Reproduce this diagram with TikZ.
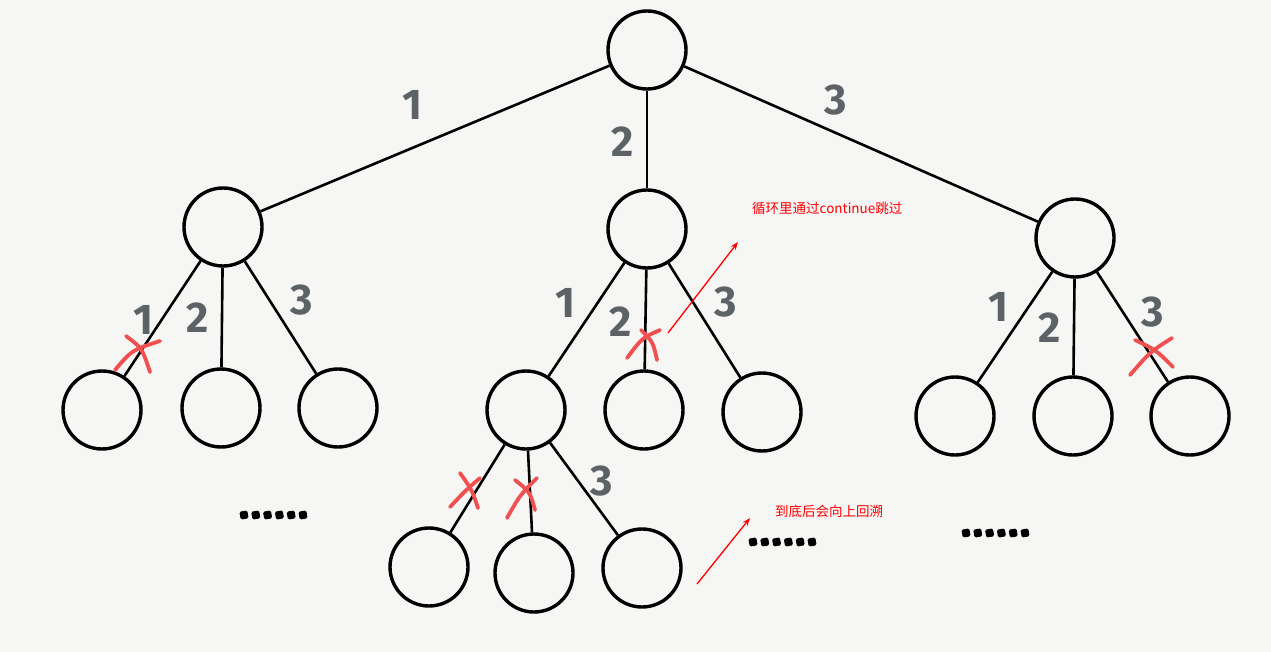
\documentclass[tikz,border=0pt]{standalone}
\usepackage{fontspec}
\setmainfont{Fira Sans}
\newfontfamily\cjk{Noto Sans CJK SC}
\usepackage{tikz}
\usetikzlibrary{arrows.meta}
\definecolor{paper}{RGB}{246,246,245}
\definecolor{numgray}{RGB}{92,98,101}
\definecolor{crossred}{RGB}{240,80,80}
\definecolor{notered}{RGB}{255,0,0}

\begin{document}
\begin{tikzpicture}[x=1pt,y=-1pt,
    vtx/.style={circle,draw,line width=3.4pt,minimum size=78pt,inner sep=0pt},
    edge/.style={line width=2.6pt},
    num/.style={font=\fontsize{43}{43}\selectfont\bfseries,text=numgray,inner sep=0pt},
    cross/.style={crossred,line width=3.8pt,line cap=round},
    note/.style={font=\cjk\fontsize{13.5}{14}\selectfont,text=notered,inner sep=0pt},
    noteline/.style={notered,line width=1.3pt,-{Stealth[length=8pt,width=6pt]}}]
  \fill[paper] (0,0) rectangle (1271,652);
  \useasboundingbox (0,0) rectangle (1271,652);
  % tree
  \node[vtx] (root) at (647,50) {};
  \node[vtx] (l) at (223,227) {};
  \node[vtx] (m) at (647,229) {};
  \node[vtx] (r) at (1075,238) {};
  \node[vtx] (l1) at (102,410) {};
  \node[vtx] (l2) at (221,408) {};
  \node[vtx] (l3) at (338,408) {};
  \node[vtx] (m1) at (526,410) {};
  \node[vtx] (m2) at (644,410) {};
  \node[vtx] (m3) at (762,412) {};
  \node[vtx] (r1) at (955,416) {};
  \node[vtx] (r2) at (1073,416) {};
  \node[vtx] (r3) at (1190,416) {};
  \node[vtx] (m11) at (429,567) {};
  \node[vtx] (m12) at (534,573) {};
  \node[vtx] (m13) at (642,568) {};
  \foreach \a/\b in {root/l,root/m,root/r,l/l1,l/l2,l/l3,m/m1,m/m2,m/m3,
                     r/r1,r/r2,r/r3,m1/m11,m1/m12,m1/m13}
    \draw[edge] (\a) -- (\b);
  % choice numbers
  \node[num] (n1) at (412,105) {1};
  \node[num] (n2) at (623,142) {2};
  \node[num] (n3) at (836,100) {3};
  \node[num] (nl1) at (143,320) {1};
  \node[num] (nl2) at (198,318) {2};
  \node[num] (nl3) at (302,300) {3};
  \node[num] (nm1) at (565,303) {1};
  \node[num] (nm2) at (621,322) {2};
  \node[num] (nm3) at (726,302) {3};
  \node[num] (nr1) at (998,307) {1};
  \node[num] (nr2) at (1050,328) {2};
  \node[num] (nr3) at (1153,312) {3};
  \node[num] (nm13) at (602,481) {3};
  % pruned branches
  \draw[cross] (115,370) .. controls (132,350) .. (160,341);
  \draw[cross] (126,336) .. controls (142,348) .. (150,372);
  \draw[cross] (627,358) .. controls (642,338) .. (660,330);
  \draw[cross] (641,330) .. controls (653,342) .. (657,360);
  \draw[cross] (1130,375) .. controls (1150,352) .. (1172,338);
  \draw[cross] (1135,340) .. controls (1156,350) .. (1173,367);
  \draw[cross] (450,507) .. controls (466,490) .. (480,478);
  \draw[cross] (460,473) .. controls (472,490) .. (478,508);
  \draw[cross] (507,518) .. controls (520,495) .. (537,478);
  \draw[cross] (515,480) .. controls (530,492) .. (535,510);
  % notes
  \node[note,anchor=west] (skip) at (752,208) {循环里通过continue跳过};
  \node[note,anchor=west] (back) at (775,511) {到底后会向上回溯};
  \coordinate (s0) at (668,333);
  \coordinate (s1) at (738,242);
  \coordinate (b0) at (697,584);
  \coordinate (b1) at (750,518);
  \draw[noteline] (s0) -- (s1);
  \draw[noteline] (b0) -- (b1);
  % more subtrees
  \foreach \x/\y in {240/515,749/542,962/533}
    \foreach \i in {0,...,5}
      \fill[rounded corners=1.5pt,rotate around={10:(\x+\i*11.8+4,\y)}] (\x+\i*11.8,\y-4) rectangle ++(8,8);
\end{tikzpicture}
\end{document}
